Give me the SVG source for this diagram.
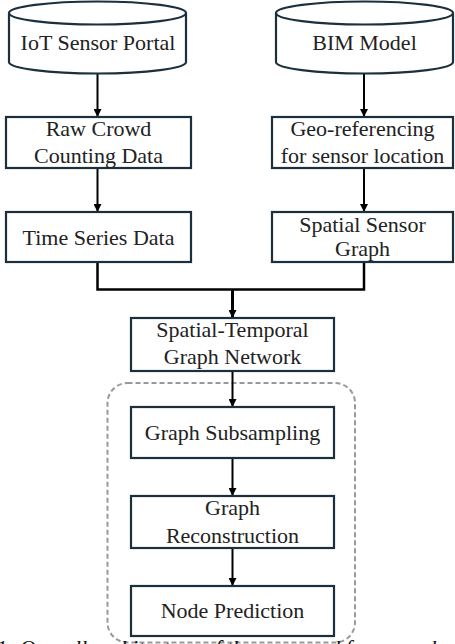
<svg xmlns="http://www.w3.org/2000/svg" width="455" height="644" viewBox="0 0 455 644">
<defs>
<marker id="ah" markerUnits="userSpaceOnUse" markerWidth="8" markerHeight="8" refX="8" refY="4" orient="auto">
<path d="M0,0 L8,4 L0,8 z" fill="#000"/>
</marker>
<style>
.box{fill:#fff;stroke:#1b2f3d;stroke-width:2.2}
.t{font-family:'Liberation Serif','DejaVu Serif',serif;font-size:22px;fill:#222;text-anchor:middle}
.c{fill:none;stroke:#000;stroke-width:2}
.cap{font-family:'Liberation Serif','DejaVu Serif',serif;font-size:22px;font-style:italic;fill:#111}
</style>
</defs>
<rect width="455" height="644" fill="#fff"/>
<g id="group-dashed">
<rect x="107.5" y="383" width="247.5" height="259.5" rx="20" fill="none" stroke="#999" stroke-width="2" stroke-dasharray="5,3"/>
</g>
<g id="connectors">
<path class="c" d="M97.5,74 V117" marker-end="url(#ah)"/>
<path class="c" d="M97.5,168 V212" marker-end="url(#ah)"/>
<path class="c" d="M364,74 V117" marker-end="url(#ah)"/>
<path class="c" d="M364,168 V212" marker-end="url(#ah)"/>
<path class="c" style="stroke-width:2.5" d="M97.5,262 V289.5 H364 V262"/>
<path class="c" style="stroke-width:3" d="M232.5,289.5 V318" marker-end="url(#ah)"/>
<path class="c" d="M232.5,371 V407" marker-end="url(#ah)"/>
<path class="c" d="M232.5,458 V496" marker-end="url(#ah)"/>
<path class="c" d="M232.5,548 V586" marker-end="url(#ah)"/>
</g>
<g id="iot">
<path class="box" d="M9,13 A88.5,11.5 0 0 1 186,13 V62 A88.5,11.5 0 0 1 9,62 Z"/>
<path class="box" style="fill:none" d="M9,13 A88.5,11.5 0 0 0 186,13"/>
<text class="t" x="98" y="50">IoT Sensor Portal</text>
</g>
<g id="bim">
<path class="box" d="M276,13 A88.5,11.5 0 0 1 453,13 V62 A88.5,11.5 0 0 1 276,62 Z"/>
<path class="box" style="fill:none" d="M276,13 A88.5,11.5 0 0 0 453,13"/>
<text class="t" x="364.5" y="50">BIM Model</text>
</g>
<g id="raw">
<rect class="box" x="6" y="117" width="185" height="51"/>
<text class="t" x="98.5" y="136">Raw Crowd</text>
<text class="t" x="98.5" y="163">Counting Data</text>
</g>
<g id="timeseries">
<rect class="box" x="6" y="212" width="185" height="50"/>
<text class="t" x="98.5" y="245">Time Series Data</text>
</g>
<g id="geo">
<rect class="box" x="272" y="117" width="181" height="51"/>
<text class="t" x="362.5" y="136">Geo-referencing</text>
<text class="t" x="362.5" y="163">for sensor location</text>
</g>
<g id="spatial">
<rect class="box" x="272" y="212" width="181" height="50"/>
<text class="t" x="362.5" y="232">Spatial Sensor</text>
<text class="t" x="362.5" y="256">Graph</text>
</g>
<g id="stgn">
<rect class="box" x="131" y="318" width="203" height="53"/>
<text class="t" x="232.5" y="337">Spatial-Temporal</text>
<text class="t" x="232.5" y="364">Graph Network</text>
</g>
<g id="subsampling">
<rect class="box" x="131" y="407" width="203" height="51"/>
<text class="t" x="232.5" y="440">Graph Subsampling</text>
</g>
<g id="reconstruction">
<rect class="box" x="131" y="496" width="203" height="52"/>
<text class="t" x="232.5" y="515">Graph</text>
<text class="t" x="232.5" y="542.5">Reconstruction</text>
</g>
<g id="prediction">
<rect class="box" x="131" y="586" width="203" height="50"/>
<text class="t" x="232.5" y="618">Node Prediction</text>
</g>
<g id="caption">
<text class="cap" x="-4" y="655">1: Overall architecture of the proposed framework and analysis</text>
</g>
</svg>
